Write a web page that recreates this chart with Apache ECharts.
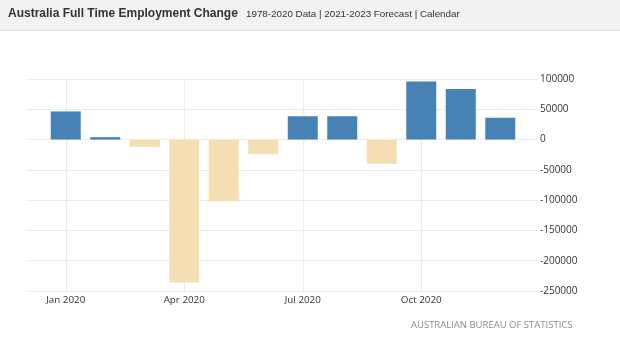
<!DOCTYPE html>
<html>
<head>
<meta charset="utf-8">
<script src="https://cdn.jsdelivr.net/npm/echarts@6/dist/echarts.min.js"></script>
<style>
  html, body { margin: 0; padding: 0; background: #fff; }
  #chart { width: 620px; height: 352px; }
</style>
</head>
<body>
<div id="chart"></div>
<script>
  // monthly full time employment change, 2020
  const months = ['Jan 2020', 'Feb 2020', 'Mar 2020', 'Apr 2020', 'May 2020', 'Jun 2020',
    'Jul 2020', 'Aug 2020', 'Sep 2020', 'Oct 2020', 'Nov 2020', 'Dec 2020']
  const changes = [46500, 4000, -12000, -236000, -102000, -24000,
    38500, 38500, -40000, 96000, 83500, 36000]
  const yTicks = { min: -250000, max: 100000, step: 50000 }

  const chart = echarts.init(document.getElementById('chart'))
  const labelFont = '"Open Sans", "DejaVu Sans", sans-serif'
  const headFont = '"Liberation Sans", Arial, sans-serif'

  chart.setOption({
    animation: false,
    backgroundColor: '#fff',
    graphic: [{
      type: 'rect',
      shape: { x: 0, y: 0, width: 620, height: 30 },
      style: { fill: '#f2f2f2' }
    }, {
      type: 'rect',
      shape: { x: 0, y: 30, width: 620, height: 1 },
      style: { fill: '#e2e2e2' }
    }, {
      type: 'text',
      left: 411,
      top: 320,
      style: {
        text: 'AUSTRALIAN BUREAU OF STATISTICS',
        fill: '#8a8a8a',
        font: '9.5px ' + labelFont
      }
    }],
    title: [{
      text: 'Australia Full Time Employment Change',
      left: 8,
      top: 8,
      padding: 0,
      textStyle: { fontFamily: headFont, fontSize: 12, fontWeight: 'bold', color: '#333' }
    }, {
      text: '1978-2020 Data | 2021-2023 Forecast | Calendar',
      left: 246,
      top: 9,
      padding: 0,
      textStyle: { fontFamily: headFont, fontSize: 9.8, fontWeight: 'normal', color: '#333' }
    }],
    grid: [
      // wide grid for the horizontal lines + value labels
      { left: 26, right: 83, top: 79, bottom: 61 },
      // narrower grid for the bars
      { left: 46, right: 100, top: 79, bottom: 61 }
    ],
    xAxis: [{
      gridIndex: 0,
      type: 'category',
      data: months,
      show: false
    }, {
      gridIndex: 1,
      type: 'category',
      data: months,
      axisLine: { show: false },
      axisTick: { show: false },
      axisLabel: {
        interval: 2,
        margin: 4,
        color: '#333',
        fontSize: 9.8,
        fontFamily: labelFont
      },
      splitLine: {
        show: true,
        interval: 2,
        alignWithLabel: true,
        lineStyle: { color: '#ececec' }
      }
    }],
    yAxis: [{
      gridIndex: 0,
      type: 'value',
      position: 'right',
      min: yTicks.min,
      max: yTicks.max,
      interval: yTicks.step,
      axisLine: { show: false },
      axisTick: { show: false },
      axisLabel: {
        margin: 3,
        color: '#333',
        fontSize: 10,
        fontFamily: labelFont,
        formatter: (v) => String(v)
      },
      splitLine: { lineStyle: { color: '#ececec' } }
    }, {
      gridIndex: 1,
      type: 'value',
      min: yTicks.min,
      max: yTicks.max,
      interval: yTicks.step,
      show: false,
      splitLine: { show: false }
    }],
    series: [{
      type: 'bar',
      xAxisIndex: 1,
      yAxisIndex: 1,
      data: changes,
      barWidth: 30,
      itemStyle: {
        color: (p) => p.value >= 0 ? '#4682b4' : '#f5deb3'
      }
    }]
  })
</script>
</body>
</html>
